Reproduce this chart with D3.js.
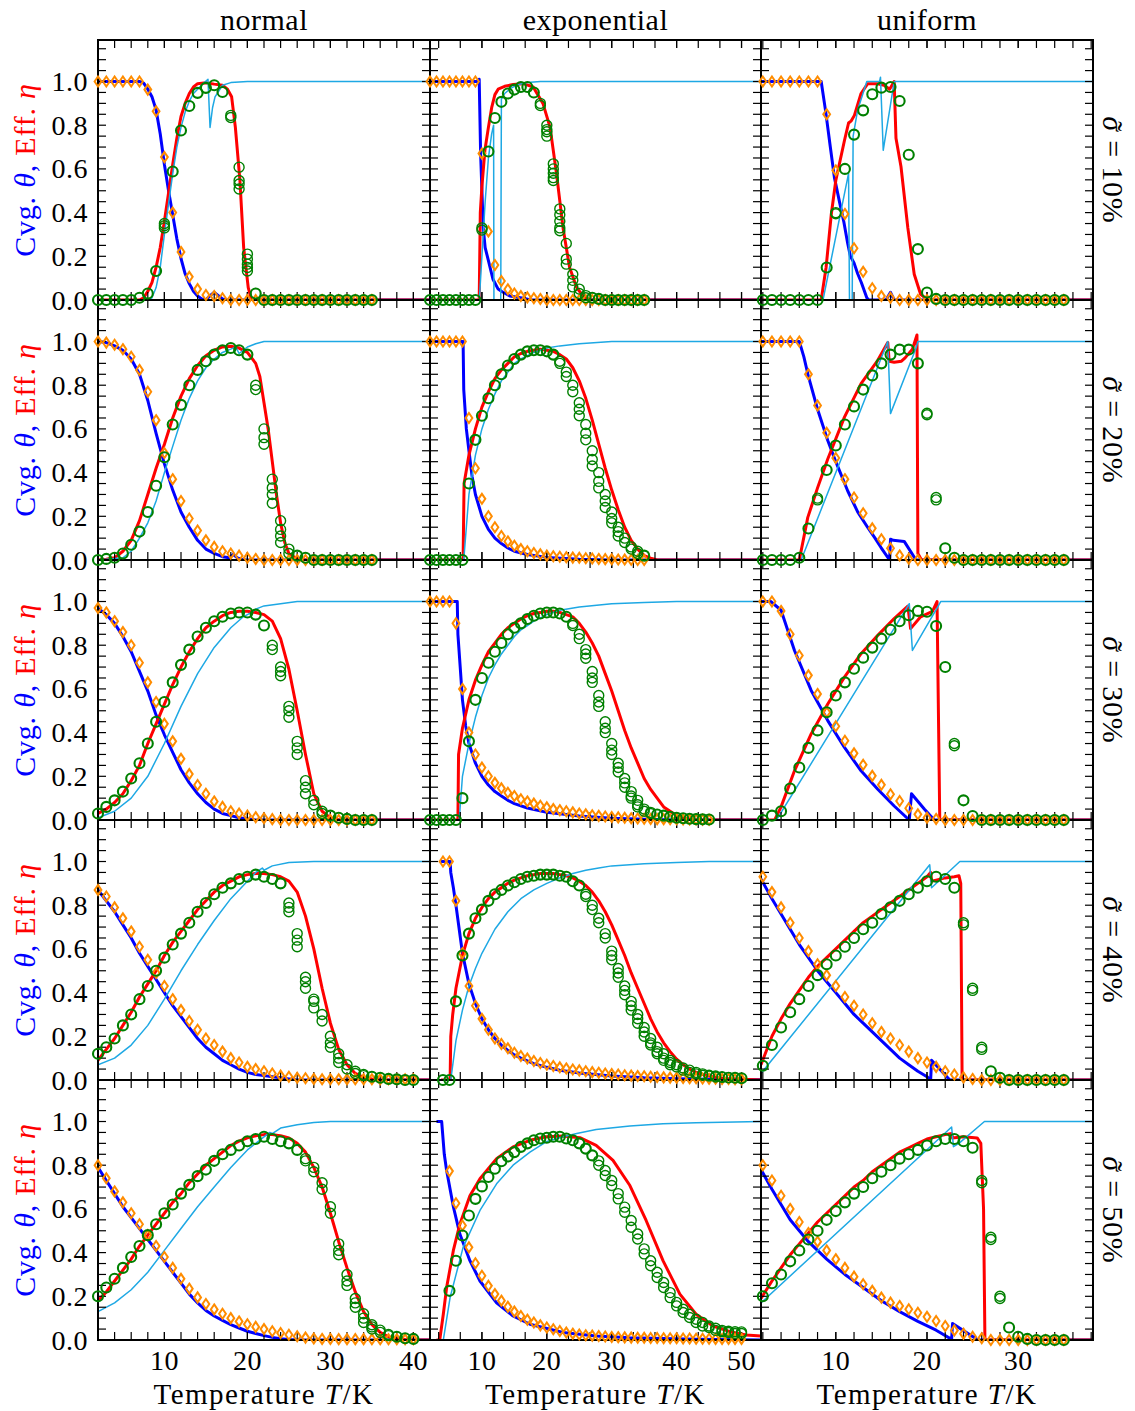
<!DOCTYPE html>
<html><head><meta charset="utf-8">
<script src="https://cdn.jsdelivr.net/npm/d3@7"></script>
<style>
body{margin:0;background:#fff}
svg{display:block}
text{font-family:"Liberation Serif","Times New Roman",serif;fill:#000}
</style></head>
<body><svg id="c" width="1135" height="1411"></svg>
<script>
// ---------- categories / labels ----------
const colTitles = ["normal", "exponential", "uniform"];
const rowSigmas = ["10%", "20%", "30%", "40%", "50%"];
const yTickVals = [0, 0.2, 0.4, 0.6, 0.8, 1.0];
const xTickVals = [[10, 20, 30, 40], [10, 20, 30, 40, 50], [10, 20, 30]];

// temperature grids of the simulation markers (K)
const T2_35 = [2,3,4,5,6,7,8,9,10,11,12,13,14,15,16,17,18,19,20,21,22,23,24,25,26,27,28,29,30,31,32,33,34,35];
const T2_40 = [2,3,4,5,6,7,8,9,10,11,12,13,14,15,16,17,18,19,20,21,22,23,24,25,26,27,28,29,30,31,32,33,34,35,36,37,38,39,40];
const T2_45 = [2,3,4,5,6,7,8,9,10,11,12,13,14,15,16,17,18,19,20,21,22,23,24,25,26,27,28,29,30,31,32,33,34,35,36,37,38,39,40,41,42,43,44,45];
const T4_50 = [4,5,6,7,8,9,10,11,12,13,14,15,16,17,18,19,20,21,22,23,24,25,26,27,28,29,30,31,32,33,34,35,36,37,38,39,40,41,42,43,44,45,46,47,48,49,50];
const T5_50 = [5,6,7,8,9,10,11,12,13,14,15,16,17,18,19,20,21,22,23,24,25,26,27,28,29,30,31,32,33,34,35,36,37,38,39,40,41,42,43,44,45,46,47,48,49,50];

// ---------- normal, sigma 10% ----------
const nrm10_cov = [1,1,1,1,1,1,0.963,0.864,0.654,0.40,0.22,0.106,0.05,0.023,0.018,0.008,0,0,0,0,0,0,0,0,0,0,0,0,0,0,0,0,0,0];
const nrm10_eff = [0,0,0,0,0,0.01,0.03,0.133,[0.35,0.34,0.33],0.588,0.776,0.888,0.948,0.971,0.983,0.952,[0.845,0.835],[0.608,0.547,0.531,0.508],[0.21,0.187,0.164,0.149,0.133],0.03,0,0,0,0,0,0,0,0,0,0,0,0,0,0];
const nrm10_covLine = [[2,1],[7,1],[7.5,0.993],[8,0.965],[8.5,0.93],[9,0.87],[9.5,0.76],[10,0.62],[10.5,0.5],[11,0.39],[11.5,0.28],[12,0.19],[12.5,0.12],[13,0.075],[13.5,0.04],[14,0.018],[14.5,0.005],[15,0],[15.5,0.02],[16,0.035],[16.5,0.02],[17,0.005],[17.5,0],[42,0]];
const nrm10_effLine = [[2,0],[7,0],[7.5,0.01],[8,0.04],[8.5,0.08],[9,0.15],[9.5,0.24],[10,0.36],[10.5,0.49],[11,0.62],[11.5,0.74],[12,0.84],[12.5,0.9],[13,0.945],[13.5,0.975],[14,0.99],[15,0.994],[16,0.988],[17,0.983],[17.6,0.965],[18.1,0.93],[18.55,0.79],[19.1,0.547],[19.55,0.24],[20.1,0.057],[20.5,0],[42,0]];
const nrm10_aux = [[2,0],[8,0],[8.5,0.01],[9,0.057],[9.5,0.15],[10,0.3],[10.5,0.44],[11,0.577],[11.5,0.7],[12,0.79],[12.5,0.86],[13,0.91],[13.5,0.945],[14,0.965],[14.5,0.985],[15.25,1.01],[15.5,0.79],[15.8,0.88],[16.1,0.93],[17,0.983],[18,0.995],[20,1],[42,1]];

// ---------- exponential, sigma 10% ----------
const exp10_cov = [1,1,1,1,1,1,1,1,0.67,0.314,0.16,0.087,0.049,0.03,0.018,0.012,0.008,0.005,0,0,0,0,0,0,0,0,0,0,0,0,0,0,0,0];
const exp10_eff = [0,0,0,0,0,0,0,0,[0.33,0.32],0.68,0.833,0.907,0.945,0.963,0.975,0.975,0.95,[0.9,0.89],[0.8,0.78,0.77,0.75],[0.623,0.6,0.58,0.56,0.547],[0.417,0.39,0.36,0.33,0.317],[0.259,0.187,0.164],[0.118,0.09,0.06],[0.05,0.03],[0.02,0.01],0.01,0.005,0,0,0,0,0,0,0];
const exp10_covLine = [[2,1],[9.5,1],[9.58,1.01],[9.8,0.67],[10.2,0.33],[10.5,0.24],[11,0.18],[11.7,0.095],[12.5,0.05],[13,0.04],[14.3,0.018],[16.4,0.008],[17.5,0],[53,0]];
const exp10_effLine = [[2,0],[9.58,0],[9.75,0.4],[10,0.52],[10.46,0.685],[11,0.79],[11.5,0.88],[12,0.94],[12.5,0.965],[13.5,0.978],[14.8,0.986],[16.4,0.99],[17.9,0.975],[19.4,0.9],[20.5,0.79],[21.5,0.577],[22.5,0.33],[23.5,0.15],[24.6,0.057],[25.6,0.018],[26.6,0],[53,0]];
const exp10_aux = [[2,0],[9.6,0],[10,0.2],[10.5,0.45],[11,0.65],[11.5,0.76],[11.8,0.8],[11.85,0],[12.9,0],[13.0,0.92],[13.5,0.945],[14.5,0.97],[15.5,0.985],[17,0.995],[19,1],[53,1]];

// ---------- uniform, sigma 10% ----------
const uni10_cov = [1,1,1,1,1,1,1,0.85,0.593,0.394,0.237,0.129,0.054,0.018,0.01,0,0,0,0,0,0,0,0,0,0,0,0,0,0,0,0,0,0,0];
const uni10_eff = [0,0,0,0,0,0,0,0.149,[0.40,0.395],0.60,0.757,0.868,0.942,0.972,0.975,0.911,0.665,0.233,0.034,0.005,0,0,0,0,0,0,0,0,0,0,0,0,0,0];
const uni10_covLine = [[1.8,1],[8.4,1],[8.9,0.86],[9.4,0.7],[9.85,0.56],[10.4,0.45],[10.87,0.36],[11.3,0.26],[11.6,0.2],[12.0,0.17],[12.4,0.12],[12.8,0.08],[13.4,0.01],[13.6,0],[15.5,0],[16.0,0.035],[16.4,0],[38.2,0]];
const uni10_effLine = [[1.8,0],[8.4,0],[8.94,0.15],[9.5,0.39],[10.0,0.547],[10.95,0.73],[11.4,0.81],[11.7,0.82],[12.04,0.845],[12.77,0.945],[13.5,0.99],[14.6,0.99],[15.3,0.983],[15.9,0.965],[16.4,1.0],[16.6,0.74],[17.15,0.61],[17.9,0.33],[18.6,0.118],[19.3,0.026],[20.1,0],[38.2,0]];
const uni10_aux = [[1.8,0],[8.6,0],[11.4,0.58],[11.5,0],[11.8,0],[11.9,0.75],[12.4,0.87],[13.4,1.0],[14.8,1.0],[14.9,1.02],[15.2,0.685],[16.4,1.0],[38.2,1]];

// ---------- normal, sigma 20% ----------
const nrm20_cov = [1.0,0.995,0.985,0.965,0.93,0.87,0.77,0.64,0.49,0.37,0.27,0.19,0.135,0.09,0.06,0.04,0.03,0.02,0.01,0.005,0,0,0,0,0,0,0,0,0,0,0,0,0,0];
const nrm20_eff = [0,0.005,0.01,0.03,0.07,0.13,0.22,0.34,0.47,0.62,0.71,0.8,0.87,0.91,0.94,0.96,0.97,0.96,0.94,[0.8,0.78],[0.6,0.56,0.53],[0.37,0.33,0.3,0.26],[0.18,0.14,0.11,0.08],[0.05,0.03],0.02,0.01,0,0,0,0,0,0,0,0];
const nrm20_covLine = [[2,1],[3,0.995],[4,0.98],[5,0.96],[6,0.92],[7,0.85],[8,0.73],[9,0.58],[10,0.44],[11,0.32],[12,0.22],[13,0.15],[14,0.09],[15,0.05],[16,0.03],[17,0.015],[17.8,0.01],[18.3,0.025],[18.8,0.01],[19.5,0],[42,0]];
const nrm20_effLine = [[2,0],[3,0.003],[4,0.01],[5,0.04],[6,0.09],[7,0.18],[8,0.3],[9,0.42],[10,0.53],[11,0.65],[12,0.75],[13,0.83],[14,0.89],[15,0.935],[16,0.96],[17,0.975],[18,0.978],[19,0.97],[20,0.95],[21,0.9],[21.5,0.84],[22,0.72],[22.5,0.6],[23,0.45],[23.5,0.3],[24,0.17],[24.5,0.08],[25,0.03],[26,0.005],[27,0],[42,0]];
const nrm20_aux = [[2,0],[5,0.01],[6,0.04],[7,0.1],[8,0.17],[9,0.27],[10,0.4],[11,0.52],[12,0.64],[13,0.74],[14,0.82],[15,0.88],[16,0.92],[17,0.95],[18,0.965],[18.6,0.975],[19,0.945],[20,0.975],[21,0.99],[22,1],[42,1]];

// ---------- exponential, sigma 20% ----------
const exp20_cov = [1,1,1,1,1,1,0.65,0.42,0.28,0.2,0.15,0.11,0.085,0.065,0.05,0.04,0.032,0.026,0.02,0.017,0.015,0.013,0.011,0.01,0.008,0.007,0.005,0.004,0.003,0.002,0.002,0.001,0,0];
const exp20_eff = [0,0,0,0,0,0,0.35,0.55,0.66,0.74,0.8,0.85,0.89,0.92,0.94,0.955,0.96,0.96,0.955,0.94,[0.91,0.9],[0.86,0.84],[0.8,0.77],[0.72,0.69,0.66],[0.62,0.58,0.55],[0.5,0.46,0.43],[0.4,0.36,0.33],[0.3,0.27,0.24],[0.22,0.19,0.17],[0.15,0.13,0.11],[0.1,0.08],[0.06,0.05],[0.04,0.03],0.02];
const exp20_covLine = [[2,1],[7.1,1],[7.2,0.78],[7.6,0.6],[8,0.5],[8.5,0.38],[9,0.3],[10,0.2],[11,0.14],[12,0.1],[13,0.075],[14,0.055],[15,0.04],[17,0.025],[20,0.012],[25,0.004],[30,0],[53,0]];
const exp20_effLine = [[2,0],[7.1,0],[7.25,0.35],[8,0.48],[9,0.6],[10,0.7],[11,0.77],[12,0.83],[13,0.87],[14,0.9],[15,0.93],[16,0.945],[17,0.955],[18,0.96],[19,0.965],[20,0.96],[21,0.955],[22,0.94],[23,0.92],[24,0.88],[25,0.82],[26,0.74],[27,0.64],[28,0.53],[29,0.42],[30,0.32],[31,0.23],[32,0.15],[33,0.09],[34,0.05],[35,0.02],[36,0.008],[37,0],[53,0]];
const exp20_aux = [[2,0],[7.2,0],[8,0.3],[9,0.48],[10,0.6],[11,0.69],[12,0.76],[13,0.82],[14,0.86],[15,0.9],[16,0.92],[18,0.95],[20,0.97],[22,0.98],[25,0.99],[30,1],[53,1]];

// ---------- uniform, sigma 20% ----------
const uni20_cov = [1,1,1,1,1,0.85,0.707,0.582,0.467,0.37,0.286,0.214,0.145,0.095,0.054,0.021,0.006,0,0,0,0,0,0,0,0,0,0,0,0,0,0,0,0,0];
const uni20_eff = [0,0,0,0,0.01,0.144,[0.283,0.275],0.412,0.524,0.62,0.703,0.78,0.845,0.9,0.94,0.963,0.963,0.9,[0.672,0.665],[0.286,0.275],0.054,0.01,0,0,0,0,0,0,0,0,0,0,0,0];
const uni20_covLine = [[1.8,1],[6.0,1],[6.5,0.93],[7,0.84],[8,0.69],[9.12,0.547],[10,0.45],[11.3,0.317],[12.4,0.22],[13.5,0.149],[14.3,0.1],[14.96,0.057],[15.9,0],[16.0,0.095],[16.3,0.09],[17.5,0.085],[18.8,0],[38.2,0]];
const uni20_effLine = [[1.8,0],[6.0,0],[6.93,0.195],[8.0,0.33],[9.12,0.462],[10.95,0.654],[12.77,0.807],[14.6,0.914],[15.7,0.995],[15.85,0.91],[16.4,0.905],[17.2,0.91],[17.6,0.925],[18.4,0.965],[18.9,1.03],[19.0,0.03],[19.4,0],[38.2,0]];
const uni20_aux = [[1.8,0],[6.2,0],[15.7,1.0],[16.0,0.67],[18.8,0.97],[19.0,1.0],[38.2,1]];

// ---------- normal, sigma 30% ----------
const nrm30_cov = [0.97,0.95,0.91,0.86,0.8,0.72,0.63,0.54,0.44,0.36,0.28,0.21,0.16,0.12,0.085,0.06,0.04,0.03,0.02,0.013,0.008,0.004,0,0,0,0,0,0,0,0,0,0,0,0];
const nrm30_eff = [0.03,0.06,0.09,0.13,0.19,0.26,0.35,0.45,0.54,0.63,0.71,0.78,0.84,0.88,0.91,0.93,0.945,0.95,0.95,0.94,0.89,[0.8,0.78],[0.7,0.68,0.66],[0.52,0.5,0.47],[0.36,0.33,0.3],[0.18,0.15,0.12],[0.09,0.07],[0.04,0.03],0.02,0.01,0.005,0,0,0];
const nrm30_covLine = [[2,0.97],[3,0.94],[4,0.9],[5,0.84],[6,0.77],[7,0.68],[8,0.59],[9,0.48],[10,0.39],[11,0.31],[12,0.23],[13,0.17],[14,0.12],[15,0.08],[16,0.05],[17,0.03],[18,0.02],[19,0.01],[20,0.005],[21,0],[42,0]];
const nrm30_effLine = [[2,0.03],[3,0.05],[4,0.08],[5,0.12],[6,0.18],[7,0.25],[8,0.35],[9,0.44],[10,0.53],[11,0.62],[12,0.7],[13,0.77],[14,0.83],[15,0.88],[16,0.91],[17,0.935],[18,0.95],[19,0.955],[20,0.955],[21,0.95],[22,0.94],[23,0.91],[24,0.83],[25,0.69],[26,0.5],[27,0.3],[28,0.12],[29,0.04],[30,0.01],[31,0],[42,0]];
const nrm30_aux = [[2,0.01],[4,0.04],[6,0.1],[8,0.2],[10,0.35],[12,0.52],[14,0.67],[16,0.79],[18,0.88],[19.5,0.93],[20,0.94],[20.5,0.95],[21,0.965],[22,0.98],[24,0.99],[26,1],[42,1]];

// ---------- exponential, sigma 30% ----------
const exp30_cov = [1,1,1,1,0.9,0.6,0.4,0.3,0.24,0.2,0.17,0.145,0.125,0.11,0.095,0.085,0.075,0.065,0.058,0.05,0.045,0.04,0.035,0.03,0.026,0.022,0.019,0.016,0.014,0.012,0.01,0.008,0.007,0.006,0.005,0.004,0.004,0.003,0.003,0.002,0.002,0.002,0.001,0.001];
const exp30_eff = [0,0,0,0,0,0.1,0.36,0.55,0.65,0.72,0.77,0.81,0.85,0.88,0.9,0.92,0.935,0.945,0.95,0.95,0.945,0.93,[0.9,0.89],[0.85,0.83],[0.78,0.76,0.74],[0.68,0.65,0.63],[0.57,0.54,0.52],[0.45,0.42,0.4],[0.35,0.32,0.3],[0.26,0.24,0.22],[0.19,0.17,0.15],[0.13,0.11,0.1],[0.09,0.07,0.06],[0.05,0.04],[0.035,0.03],0.025,0.02,0.015,0.01,0.008,0.006,0.004,0.003,0.002];
const exp30_covLine = [[2,1],[6.2,1],[6.3,0.85],[6.7,0.68],[7,0.55],[7.5,0.43],[8,0.35],[9,0.26],[10,0.2],[11,0.16],[12,0.13],[13,0.11],[14,0.09],[15,0.075],[17,0.055],[20,0.035],[25,0.018],[30,0.008],[35,0.003],[40,0],[53,0]];
const exp30_effLine = [[2,0],[6.3,0],[6.4,0.3],[7,0.42],[8,0.55],[9,0.64],[10,0.71],[11,0.77],[12,0.81],[13,0.85],[14,0.88],[15,0.9],[16,0.92],[17,0.935],[18,0.945],[19,0.95],[20,0.955],[21,0.955],[22,0.95],[23,0.94],[24,0.93],[25,0.9],[26,0.86],[27,0.81],[28,0.75],[29,0.67],[30,0.59],[31,0.5],[32,0.41],[33,0.33],[34,0.26],[35,0.19],[36,0.14],[37,0.1],[38,0.06],[39,0.04],[40,0.02],[41,0.01],[42,0.005],[43,0],[53,0]];
const exp30_aux = [[2,0],[6.5,0],[7,0.2],[8,0.35],[9,0.47],[10,0.57],[11,0.65],[12,0.71],[13,0.76],[14,0.8],[15,0.84],[16,0.87],[17,0.89],[18,0.91],[20,0.94],[22,0.96],[25,0.975],[30,0.99],[35,0.995],[40,1],[53,1]];

// ---------- uniform, sigma 30% ----------
const uni30_cov = [1,1,0.957,0.85,0.753,0.662,0.577,0.493,0.429,0.363,0.305,0.253,0.202,0.161,0.118,0.087,0.054,0.026,0.01,0.005,0,0,0,0,0,0,0,0,0,0,0,0,0,0];
const uni30_eff = [0,0.02,0.04,0.144,0.24,0.33,0.41,0.493,0.57,0.63,0.692,0.743,0.789,0.83,0.871,0.91,0.937,0.957,0.953,0.888,0.7,[0.35,0.34],0.09,0.018,0,0,0,0,0,0,0,0,0,0];
const uni30_covLine = [[1.8,1],[2.9,1],[4.0,0.96],[5.47,0.776],[7.3,0.593],[9.12,0.455],[10.95,0.332],[12.77,0.225],[14.6,0.141],[16.4,0.064],[18.06,0],[18.3,0.12],[19.7,0.05],[20.8,0],[38.2,0]];
const uni30_effLine = [[1.8,0],[3.3,0],[4.0,0.06],[5.47,0.225],[7.3,0.394],[9.12,0.531],[10.95,0.654],[12.77,0.761],[14.6,0.845],[16.4,0.922],[17.9,0.979],[18.2,0.876],[19.3,0.93],[20.6,0.955],[21.1,1.0],[21.4,0],[38.2,0]];
const uni30_aux = [[1.8,0],[3.5,0],[18.06,0.99],[18.4,0.776],[21.1,0.97],[21.5,1.0],[38.2,1]];

// ---------- normal, sigma 40% ----------
const nrm40_cov = [0.87,0.84,0.79,0.74,0.68,0.61,0.55,0.49,0.43,0.37,0.32,0.27,0.23,0.19,0.16,0.13,0.1,0.08,0.06,0.05,0.04,0.03,0.02,0.015,0.01,0.008,0.005,0.003,0.003,0.003,0.003,0.003,0.003,0.003,0.003,0.003,0.003,0.003,0.003];
const nrm40_eff = [0.12,0.15,0.19,0.25,0.3,0.37,0.43,0.5,0.56,0.62,0.67,0.72,0.77,0.81,0.85,0.88,0.9,0.92,0.93,0.94,0.93,0.92,0.9,[0.81,0.79,0.77],[0.67,0.64,0.61],[0.47,0.45,0.42],[0.37,0.36,0.33],[0.3,0.27],[0.2,0.17,0.15],[0.12,0.1,0.08],[0.07,0.05],[0.04,0.03],[0.025,0.02],0.015,0.01,0.005,0.003,0,0];
const nrm40_covLine = [[2,0.87],[3,0.82],[4,0.77],[5,0.71],[6,0.65],[7,0.58],[8,0.52],[9,0.46],[10,0.4],[11,0.34],[12,0.29],[13,0.24],[14,0.19],[15,0.15],[16,0.12],[17,0.09],[18,0.07],[19,0.05],[20,0.035],[21,0.025],[22,0.02],[23,0.015],[24,0.01],[25,0.005],[26,0],[42,0]];
const nrm40_effLine = [[2,0.09],[3,0.14],[4,0.19],[5,0.25],[6,0.31],[7,0.38],[8,0.44],[9,0.5],[10,0.57],[11,0.63],[12,0.68],[13,0.73],[14,0.78],[15,0.82],[16,0.86],[17,0.89],[18,0.91],[19,0.93],[20,0.94],[21,0.945],[22,0.945],[23,0.94],[24,0.93],[25,0.91],[26,0.86],[27,0.75],[28,0.6],[29,0.42],[30,0.26],[31,0.14],[32,0.07],[33,0.03],[34,0.012],[35,0.005],[36,0],[42,0]];
const nrm40_aux = [[2,0.07],[4,0.1],[6,0.16],[8,0.25],[10,0.37],[12,0.5],[14,0.62],[16,0.73],[18,0.83],[20,0.91],[21,0.95],[21.8,0.97],[22,0.96],[23,0.98],[25,0.995],[28,1],[42,1]];

// ---------- exponential, sigma 40% ----------
const exp40_cov = [1,1,0.82,0.58,0.43,0.34,0.28,0.23,0.19,0.165,0.145,0.125,0.11,0.098,0.087,0.078,0.07,0.064,0.058,0.053,0.048,0.044,0.04,0.036,0.033,0.03,0.027,0.025,0.022,0.02,0.018,0.017,0.015,0.014,0.012,0.011,0.01,0.009,0.008,0.008,0.007,0.006,0.006,0.005,0.005,0.004,0.004];
const exp40_eff = [0,0,0.36,0.57,0.67,0.74,0.78,0.82,0.85,0.87,0.89,0.905,0.92,0.93,0.935,0.94,0.94,0.94,0.935,0.93,0.91,0.89,[0.85,0.84],[0.8,0.78],[0.74,0.72],[0.67,0.65],[0.59,0.57,0.55],[0.51,0.49,0.47],[0.43,0.41,0.39],[0.36,0.34,0.32],[0.3,0.28,0.26],[0.24,0.22,0.2],[0.19,0.17,0.16],[0.15,0.13,0.12],[0.12,0.1,0.09],[0.09,0.08,0.07],[0.07,0.06],[0.055,0.045],[0.045,0.035],[0.035,0.028],[0.028,0.022],[0.022,0.018],[0.018,0.014],[0.015,0.012],[0.012,0.01],0.01,0.008];
const exp40_covLine = [[3.7,1],[5.1,1],[5.2,0.95],[5.6,0.88],[6,0.8],[7,0.58],[8,0.44],[9,0.35],[10,0.28],[11,0.23],[12,0.19],[13,0.16],[14,0.135],[15,0.115],[16,0.1],[18,0.075],[20,0.058],[22,0.045],[25,0.032],[30,0.018],[35,0.01],[40,0.006],[45,0.003],[50,0.002],[53,0.001]];
const exp40_effLine = [[3.7,0],[5.1,0],[5.2,0.2],[5.5,0.3],[6,0.42],[7,0.57],[8,0.67],[9,0.74],[10,0.79],[11,0.83],[12,0.86],[13,0.88],[14,0.9],[15,0.915],[16,0.925],[17,0.935],[18,0.94],[19,0.945],[20,0.945],[21,0.945],[22,0.94],[23,0.935],[24,0.925],[25,0.91],[26,0.89],[27,0.86],[28,0.82],[29,0.77],[30,0.71],[31,0.64],[32,0.57],[33,0.49],[34,0.42],[35,0.35],[36,0.28],[37,0.22],[38,0.17],[39,0.13],[40,0.095],[41,0.07],[42,0.05],[43,0.035],[44,0.025],[45,0.018],[46,0.012],[48,0.006],[50,0.003],[53,0]];
const exp40_aux = [[3.7,0],[5.2,0],[6,0.18],[7,0.32],[8,0.43],[9,0.51],[10,0.58],[12,0.69],[14,0.77],[16,0.83],[18,0.87],[20,0.9],[22,0.925],[24,0.945],[26,0.96],[28,0.97],[30,0.98],[35,0.99],[40,0.995],[45,1],[53,1]];

// ---------- uniform, sigma 40% ----------
const uni40_cov = [0.93,0.86,0.79,0.72,0.65,0.59,0.53,0.48,0.43,0.38,0.34,0.3,0.26,0.22,0.19,0.16,0.13,0.1,0.08,0.06,0.04,0.025,0.012,0.005,0,0,0,0,0,0,0,0,0,0];
const uni40_eff = [0.065,0.16,0.24,0.31,0.37,0.43,0.48,0.53,0.57,0.61,0.65,0.69,0.72,0.76,0.79,0.82,0.85,0.88,0.91,0.93,0.92,0.88,[0.72,0.71],[0.42,0.41],[0.15,0.14],0.04,0.01,0,0,0,0,0,0,0];
const uni40_covLine = [[1.8,0.92],[3,0.83],[4,0.76],[5,0.69],[6,0.62],[7,0.56],[8,0.5],[9,0.45],[10,0.4],[11,0.35],[12,0.3],[13,0.26],[14,0.22],[15,0.18],[16,0.14],[17,0.1],[18,0.07],[19,0.04],[20,0.015],[20.4,0],[20.5,0.09],[22.5,0],[38.2,0]];
const uni40_effLine = [[1.8,0.07],[3,0.2],[4,0.28],[5,0.35],[6,0.41],[7,0.47],[8,0.52],[9,0.56],[10,0.6],[11,0.64],[12,0.68],[13,0.72],[14,0.75],[15,0.78],[16,0.81],[17,0.84],[18,0.87],[19,0.9],[20,0.93],[20.4,0.95],[20.5,0.91],[21,0.915],[22,0.925],[23,0.93],[23.5,0.935],[23.7,0.9],[23.85,0],[38.2,0]];
const uni40_aux = [[1.8,0.03],[20.3,0.985],[20.5,0.88],[23.6,1.0],[38.2,1]];

// ---------- normal, sigma 50% ----------
const nrm50_cov = [0.8,0.74,0.68,0.63,0.58,0.53,0.48,0.43,0.38,0.33,0.28,0.235,0.195,0.165,0.14,0.12,0.1,0.085,0.072,0.06,0.05,0.04,0.032,0.024,0.017,0.011,0.007,0.005,0.005,0.004,0.004,0.004,0.004,0.003,0.003,0.003,0.003,0.003,0.003];
const nrm50_eff = [0.2,0.24,0.28,0.33,0.38,0.43,0.48,0.53,0.58,0.62,0.67,0.71,0.75,0.78,0.82,0.85,0.87,0.89,0.91,0.92,0.93,0.92,0.91,0.9,0.87,[0.83,0.82],[0.79,0.77],[0.72,0.69],[0.61,0.58],[0.44,0.41,0.39],[0.3,0.27,0.25],[0.19,0.17,0.15],[0.12,0.1,0.08],[0.07,0.06,0.05],[0.045,0.035],[0.025,0.02],0.015,0.008,0.005];
const nrm50_covLine = [[2,0.79],[3,0.73],[4,0.67],[5,0.61],[6,0.56],[7,0.51],[8,0.46],[9,0.41],[10,0.36],[11,0.31],[12,0.26],[13,0.21],[14,0.17],[15,0.135],[16,0.11],[17,0.09],[18,0.07],[19,0.055],[20,0.04],[21,0.03],[22,0.02],[23,0.012],[24,0.006],[25,0.002],[26,0],[42,0]];
const nrm50_effLine = [[2,0.18],[3,0.22],[4,0.27],[5,0.32],[6,0.37],[7,0.43],[8,0.48],[9,0.53],[10,0.58],[11,0.63],[12,0.67],[13,0.72],[14,0.76],[15,0.8],[16,0.83],[17,0.86],[18,0.89],[19,0.91],[20,0.925],[21,0.935],[22,0.94],[23,0.94],[24,0.935],[25,0.925],[26,0.9],[27,0.86],[28,0.79],[29,0.7],[30,0.58],[31,0.45],[32,0.33],[33,0.22],[34,0.13],[35,0.07],[36,0.035],[37,0.015],[38,0.006],[39,0.002],[40,0],[42,0]];
const nrm50_aux = [[2,0.13],[4,0.17],[6,0.23],[8,0.31],[10,0.41],[12,0.51],[14,0.61],[16,0.7],[18,0.79],[20,0.87],[22,0.93],[22.7,0.95],[23,0.945],[24,0.97],[26,0.985],[28,0.995],[30,1],[42,1]];

// ---------- exponential, sigma 50% ----------
const exp50_cov = [0.773,0.626,0.524,0.424,0.351,0.294,0.248,0.21,0.18,0.152,0.13,0.11,0.093,0.08,0.067,0.057,0.049,0.041,0.034,0.029,0.025,0.022,0.02,0.018,0.016,0.014,0.013,0.012,0.011,0.01,0.01,0.009,0.009,0.008,0.008,0.008,0.007,0.007,0.006,0.006,0.006,0.005,0.005,0.005,0.005,0.005];
const exp50_eff = [0.225,0.363,0.478,0.57,0.646,0.703,0.746,0.784,0.818,0.84,0.86,0.884,0.9,0.914,0.922,0.926,0.93,0.93,0.922,0.914,0.9,0.876,0.845,[0.82,0.8],[0.776,0.753],[0.73,0.707],[0.67,0.646],[0.608,0.585],[0.547,0.516],[0.485,0.462],[0.417,0.394],[0.363,0.34],[0.31,0.286],[0.263,0.24],[0.217,0.194],[0.172,0.156],[0.141,0.126],[0.118,0.103],[0.095,0.08],[0.08,0.064],[0.064,0.057],[0.054,0.044],[0.044,0.038],[0.04,0.034],[0.038,0.03],[0.037,0.03]];
const exp50_covLine = [[3.0,1],[3.8,1],[4.2,0.85],[4.56,0.776],[5.6,0.61],[6.6,0.485],[8.15,0.363],[9.7,0.27],[12.26,0.17],[14.8,0.11],[17.4,0.072],[22.5,0.034],[27.6,0.018],[32.8,0.01],[43,0.003],[53,0.0]];
const exp50_effLine = [[3.0,0],[3.5,0],[4.05,0.118],[4.56,0.24],[5.6,0.41],[6.6,0.53],[8.15,0.66],[9.7,0.738],[12.26,0.83],[14.8,0.884],[17.4,0.914],[19.9,0.93],[22.5,0.934],[25.1,0.926],[27.6,0.891],[30.2,0.822],[32.8,0.707],[35.3,0.547],[37.9,0.363],[40.5,0.21],[43,0.118],[45.6,0.064],[48.2,0.038],[50.7,0.023],[53,0.018]];
const exp50_aux = [[3.0,0],[4.05,0],[5.1,0.195],[7.1,0.424],[9.7,0.593],[12.26,0.715],[14.8,0.8],[17.4,0.86],[19.9,0.907],[22.5,0.93],[24.6,0.945],[27.6,0.963],[32.8,0.98],[37.9,0.99],[43,0.994],[53,1.0]];

// ---------- uniform, sigma 50% ----------
const uni50_cov = [0.8,0.73,0.66,0.6,0.54,0.49,0.45,0.41,0.37,0.33,0.29,0.255,0.225,0.194,0.171,0.156,0.141,0.125,0.106,0.087,0.064,0.044,0.029,0.015,0.008,0,0,0,0,0,0,0,0,0];
const uni50_eff = [0.2,0.26,0.3,0.36,0.41,0.46,0.5,0.55,0.59,0.63,0.67,0.7,0.74,0.77,0.8,0.83,0.85,0.87,0.89,0.91,0.92,0.92,0.91,0.88,[0.73,0.72],[0.47,0.46],[0.2,0.19],0.057,0.015,0.005,0,0,0,0];
const uni50_covLine = [[1.8,0.78],[3,0.69],[5,0.55],[7,0.45],[9,0.37],[11,0.3],[13,0.24],[15,0.18],[17,0.13],[19,0.085],[21,0.045],[22.7,0.003],[22.8,0.075],[25.6,0],[38.2,0]];
const uni50_effLine = [[1.8,0.19],[3,0.27],[4,0.33],[5,0.39],[6,0.44],[7,0.49],[8,0.54],[9,0.58],[10,0.62],[11,0.66],[12,0.7],[13,0.73],[14,0.77],[15,0.8],[16,0.83],[17,0.86],[18,0.88],[19,0.9],[20,0.92],[21,0.93],[22,0.94],[22.7,0.945],[22.8,0.925],[24,0.93],[25.5,0.925],[25.9,0.9],[26.2,0.6],[26.35,0],[38.2,0]];
const uni50_aux = [[1.8,0.17],[22.7,0.975],[22.9,0.885],[23.5,0.9],[26.3,1.0],[38.2,1]];

// ---------- panel table built from the arrays ----------
const panels = [
  {row:0,col:0,T:T2_35,cov:nrm10_cov,eff:nrm10_eff,covLine:nrm10_covLine,effLine:nrm10_effLine,aux:nrm10_aux},
  {row:0,col:1,T:T2_35,cov:exp10_cov,eff:exp10_eff,covLine:exp10_covLine,effLine:exp10_effLine,aux:exp10_aux},
  {row:0,col:2,T:T2_35,cov:uni10_cov,eff:uni10_eff,covLine:uni10_covLine,effLine:uni10_effLine,aux:uni10_aux},
  {row:1,col:0,T:T2_35,cov:nrm20_cov,eff:nrm20_eff,covLine:nrm20_covLine,effLine:nrm20_effLine,aux:nrm20_aux},
  {row:1,col:1,T:T2_35,cov:exp20_cov,eff:exp20_eff,covLine:exp20_covLine,effLine:exp20_effLine,aux:exp20_aux},
  {row:1,col:2,T:T2_35,cov:uni20_cov,eff:uni20_eff,covLine:uni20_covLine,effLine:uni20_effLine,aux:uni20_aux},
  {row:2,col:0,T:T2_35,cov:nrm30_cov,eff:nrm30_eff,covLine:nrm30_covLine,effLine:nrm30_effLine,aux:nrm30_aux},
  {row:2,col:1,T:T2_45,cov:exp30_cov,eff:exp30_eff,covLine:exp30_covLine,effLine:exp30_effLine,aux:exp30_aux},
  {row:2,col:2,T:T2_35,cov:uni30_cov,eff:uni30_eff,covLine:uni30_covLine,effLine:uni30_effLine,aux:uni30_aux},
  {row:3,col:0,T:T2_40,cov:nrm40_cov,eff:nrm40_eff,covLine:nrm40_covLine,effLine:nrm40_effLine,aux:nrm40_aux},
  {row:3,col:1,T:T4_50,cov:exp40_cov,eff:exp40_eff,covLine:exp40_covLine,effLine:exp40_effLine,aux:exp40_aux},
  {row:3,col:2,T:T2_35,cov:uni40_cov,eff:uni40_eff,covLine:uni40_covLine,effLine:uni40_effLine,aux:uni40_aux},
  {row:4,col:0,T:T2_40,cov:nrm50_cov,eff:nrm50_eff,covLine:nrm50_covLine,effLine:nrm50_effLine,aux:nrm50_aux},
  {row:4,col:1,T:T5_50,cov:exp50_cov,eff:exp50_eff,covLine:exp50_covLine,effLine:exp50_effLine,aux:exp50_aux},
  {row:4,col:2,T:T2_35,cov:uni50_cov,eff:uni50_eff,covLine:uni50_covLine,effLine:uni50_effLine,aux:uni50_aux}
];

// ---------- layout ----------
const colEdges = [98, 430, 761, 1093];
const top0 = 40, rowH = 260;
const xDomains = [[2, 42], [2, 53], [1.8, 38.2]];
const xMinorStep = [2, 10/3, 2];
const yDomain = [0, 1.19];
const C = {blue:"#0000ff", red:"#ff0000", aux:"#1ea8e4", orange:"#ff8c00", green:"#008000"};
const FS = 30;      // titles and axis labels
const FS_TICK = 28; // tick labels

const svg = d3.select("#c");
const defs = svg.append("defs");
const gLines = svg.append("g");
const gFrames = svg.append("g");
const gMarks = svg.append("g");
const gText = svg.append("g");

function scales(row, col) {
  const x = d3.scaleLinear().domain(xDomains[col]).range([colEdges[col], colEdges[col+1]]);
  const yT = top0 + rowH*row, yB = yT + rowH;
  const y = d3.scaleLinear().domain(yDomain).range([yB, yT]);
  return {x, y, yT, yB};
}

panels.forEach(p => {
  const {x, y, yT, yB} = scales(p.row, p.col);
  const id = `clip-${p.row}-${p.col}`;
  defs.append("clipPath").attr("id", id).append("rect")
    .attr("x", x.range()[0]).attr("y", yT).attr("width", x.range()[1]-x.range()[0]).attr("height", yB-yT);
  const line = d3.line().x(d => x(d[0])).y(d => y(d[1]));
  const g = gLines.append("g").attr("clip-path", `url(#${id})`);
  g.append("path").attr("d", line(p.covLine)).attr("fill","none").attr("stroke",C.blue).attr("stroke-width",3).attr("stroke-linejoin","round");
  g.append("path").attr("d", line(p.effLine)).attr("fill","none").attr("stroke",C.red).attr("stroke-width",3).attr("stroke-linejoin","round");
  g.append("path").attr("d", line(p.aux)).attr("fill","none").attr("stroke",C.aux).attr("stroke-width",1.5).attr("stroke-linejoin","round");

  const dia = gMarks.append("g");
  p.cov.forEach((v, i) => {
    const cx = x(p.T[i]), cy = y(v);
    dia.append("path").attr("d", `M${cx},${cy-5}L${cx+3.4},${cy}L${cx},${cy+5}L${cx-3.4},${cy}Z`)
      .attr("fill","none").attr("stroke",C.orange).attr("stroke-width",2);
  });
  const cir = gMarks.append("g");
  p.eff.forEach((v, i) => {
    const vals = Array.isArray(v) ? v : [v];
    vals.forEach(vv => {
      cir.append("circle").attr("cx", x(p.T[i])).attr("cy", y(vv)).attr("r", 5)
        .attr("fill","none").attr("stroke",C.green).attr("stroke-width", Array.isArray(v) ? 1.4 : 2.1);
    });
  });
});

// frames and ticks
for (let row = 0; row < 5; row++) {
  for (let col = 0; col < 3; col++) {
    const {x, y, yT, yB} = scales(row, col);
    const [x0, x1] = x.range();
    const g = gFrames.append("g");
    const tick = (a, b, c, d) => g.append("line").attr("x1",a).attr("y1",b).attr("x2",c).attr("y2",d).attr("stroke","#000").attr("stroke-width",1.2);
    const TL = 8;
    const xd = xDomains[col];
    const minors = d3.range(Math.ceil(xd[0]/xMinorStep[col]-1e-9)*xMinorStep[col], xd[1]+1e-9, xMinorStep[col]);
    minors.concat(xTickVals[col]).forEach(t => { const px = x(t); if (px <= x0+0.5 || px >= x1-0.5) return; tick(px, yB, px, yB-TL); tick(px, yT, px, yT+TL); });
    d3.range(0, 1.19, 0.05).forEach(t => { const py = y(t); if (py >= yB-0.5 || py <= yT+0.5) return; tick(x0, py, x0+TL, py); tick(x1, py, x1-TL, py); });
    g.append("rect").attr("x",x0).attr("y",yT).attr("width",x1-x0).attr("height",yB-yT)
      .attr("fill","none").attr("stroke","#000").attr("stroke-width",2);
  }
}

for (let row = 0; row < 5; row++) {
  const {y} = scales(row, 0);
  yTickVals.forEach(v => {
    gText.append("text").attr("x", 88).attr("y", y(v) + 9.5).attr("text-anchor","end")
      .attr("font-size", FS_TICK).attr("letter-spacing", 0.5).text(d3.format(".1f")(v));
  });
  const cy = top0 + rowH*row + rowH/2;
  const t = gText.append("text").attr("transform", `translate(35,${cy}) rotate(-90)`).attr("text-anchor","middle")
    .attr("font-size", FS).attr("letter-spacing", 0.8);
  t.append("tspan").attr("fill", C.blue).text("Cvg. ");
  t.append("tspan").attr("fill", C.blue).attr("font-style","italic").text("θ");
  t.append("tspan").attr("fill", C.blue).text(", ");
  t.append("tspan").attr("fill", C.red).text("Eff. ");
  t.append("tspan").attr("fill", C.red).attr("font-style","italic").text("η");
  // right label with tilde over sigma
  const rg = gText.append("g").attr("transform", `translate(1103,${cy}) rotate(90)`);
  const r = rg.append("text").attr("text-anchor","middle").attr("font-size", FS).attr("letter-spacing", 0.8);
  r.append("tspan").attr("font-style","italic").text("σ");
  r.append("tspan").text(" = " + rowSigmas[row]);
  const node = r.node();
  const W = node.getComputedTextLength();
  const ws = node.getSubStringLength(0, 1);
  rg.append("text").attr("x", -W/2 + ws/2 + 2).attr("y", 1).attr("text-anchor","middle").attr("font-size", FS).text("\u02DC");
}

for (let col = 0; col < 3; col++) {
  const {x} = scales(4, col);
  xTickVals[col].forEach(v => {
    gText.append("text").attr("x", x(v)).attr("y", 1370).attr("text-anchor","middle").attr("font-size", FS_TICK).attr("letter-spacing", 0.5).text(v);
  });
  const cx = (colEdges[col] + colEdges[col+1]) / 2;
  gText.append("text").attr("x", cx).attr("y", 30).attr("text-anchor","middle").attr("font-size", FS).attr("letter-spacing", 0.5).text(colTitles[col]);
  const xl = gText.append("text").attr("x", cx).attr("y", 1404).attr("text-anchor","middle").attr("font-size", 29).attr("letter-spacing", 1.5);
  xl.append("tspan").text("Temperature ");
  xl.append("tspan").attr("font-style","italic").text("T");
  xl.append("tspan").text("/K");
}
</script>
</body></html>
